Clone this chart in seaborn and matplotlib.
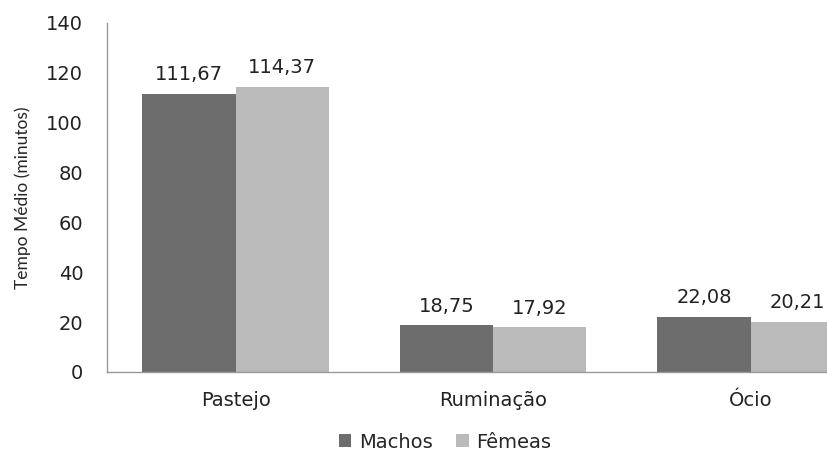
import matplotlib
matplotlib.use('Agg')
import matplotlib.pyplot as plt
import pandas as pd
import seaborn as sns

categorias = ['Pastejo', 'Ruminação', 'Ócio']
machos = [111.67, 18.75, 22.08]
femeas = [114.37, 17.92, 20.21]
series = ['Machos', 'Fêmeas']
cores = ['#6d6d6d', '#bababa']

df = pd.DataFrame({
    'categoria': categorias * 2,
    'valor': machos + femeas,
    'sexo': [series[0]] * 3 + [series[1]] * 3,
})

sns.set_style('white')
plt.rcParams['font.family'] = ['DejaVu Sans']

fig = plt.figure(figsize=(8.28, 4.57), dpi=100)
ax = fig.add_axes([0.129, 0.186, 0.871, 0.764])

sns.barplot(data=df, x='categoria', y='valor', hue='sexo', palette=cores,
            width=0.724, saturation=1, linewidth=0, ax=ax, legend=True)

for cont in ax.containers:
    ax.bar_label(cont, labels=[f'{v:.2f}'.replace('.', ',') for v in cont.datavalues],
                 padding=7, fontsize=14, color='#222222')

ax.set_xlim(-0.5, 2.30)
ax.set_ylim(0, 140)
ax.set_yticks(range(0, 141, 20))
ax.set_xlabel('')
ax.set_ylabel('Tempo Médio (minutos)', fontsize=12.5, family=['Lato', 'DejaVu Sans'], labelpad=11)
ax.tick_params(axis='both', labelsize=14, colors='#222222', length=0)
ax.tick_params(axis='y', pad=17)
ax.tick_params(axis='x', pad=14)

for s in ['top', 'right']:
    ax.spines[s].set_visible(False)
for s in ['left', 'bottom']:
    ax.spines[s].set_color('#999999')
    ax.spines[s].set_linewidth(1)

handles, labels = ax.get_legend_handles_labels()
ax.legend_.remove()
fig.legend(handles, labels, loc='center', bbox_to_anchor=(445 / 828, 1 - 442 / 457),
           ncol=2, frameon=False, fontsize=14, handlelength=0.65, handleheight=0.65,
           handletextpad=0.4, columnspacing=1.2)

fig.savefig('out.png', dpi=100)
